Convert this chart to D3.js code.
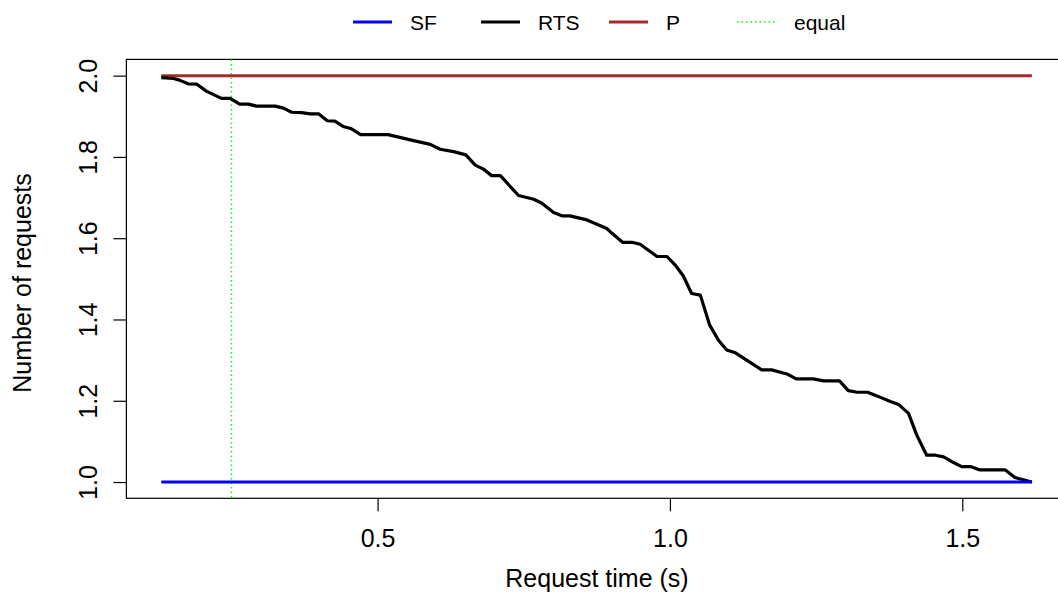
<!DOCTYPE html>
<html>
<head>
<meta charset="utf-8">
<script src="https://cdn.jsdelivr.net/npm/d3@7"></script>
<style>
  html, body { margin: 0; padding: 0; background: #fff; }
  svg { display: block; font-family: "Liberation Sans", Arial, Helvetica, sans-serif; }
</style>
</head>
<body>
<svg id="chart" width="1058" height="595"></svg>
<script>
// ---- data ----
const rtsX = [0.130, 0.151, 0.161, 0.176, 0.191, 0.207, 0.233, 0.248, 0.264, 0.279,
              0.293, 0.325, 0.339, 0.353, 0.370, 0.385, 0.399, 0.414, 0.427, 0.441,
              0.454, 0.471, 0.518, 0.556, 0.590, 0.607, 0.630, 0.651, 0.667, 0.681,
              0.695, 0.710, 0.741, 0.767, 0.781, 0.801, 0.815, 0.829, 0.858, 0.892,
              0.901, 0.919, 0.935, 0.949, 0.978, 0.995, 1.009, 1.023, 1.037, 1.052,
              1.068, 1.083, 1.097, 1.112, 1.157, 1.174, 1.200, 1.216, 1.245, 1.263,
              1.290, 1.305, 1.320, 1.338, 1.354, 1.377, 1.391, 1.408, 1.422, 1.439,
              1.454, 1.468, 1.485, 1.499, 1.514, 1.529, 1.573, 1.590, 1.619];
const rtsY = [1.995, 1.993, 1.989, 1.980, 1.979, 1.962, 1.944, 1.944, 1.930, 1.930,
              1.925, 1.925, 1.920, 1.910, 1.909, 1.906, 1.906, 1.889, 1.888, 1.875,
              1.870, 1.855, 1.855, 1.842, 1.831, 1.819, 1.813, 1.805, 1.780, 1.770,
              1.754, 1.754, 1.705, 1.696, 1.686, 1.663, 1.655, 1.655, 1.645, 1.624,
              1.612, 1.590, 1.590, 1.585, 1.555, 1.555, 1.534, 1.507, 1.464, 1.460,
              1.386, 1.349, 1.325, 1.318, 1.276, 1.276, 1.266, 1.254, 1.254, 1.249,
              1.249, 1.225, 1.221, 1.221, 1.212, 1.198, 1.191, 1.169, 1.116, 1.066,
              1.066, 1.062, 1.048, 1.038, 1.038, 1.030, 1.030, 1.011, 1.000];
const sfX = [0.130, 1.619];
const sfY = [1, 1];
const pX = [0.130, 1.619];
const pY = [2, 2];
const equalX = 0.25;

const xTicks = [0.5, 1.0, 1.5];
const yTicks = [1.0, 1.2, 1.4, 1.6, 1.8, 2.0];
const legendLabels = ["SF", "RTS", "P", "equal"];
const legendColors = ["#0000FF", "#000000", "#A52A2A", "#00FF00"];

// ---- layout ----
const svg = d3.select("#chart");
const pLeft = 126.4, pRight = 1067.3, pTop = 59.4, pBottom = 498.3;
const xDomain = [0.0704, 1.6796];
const yDomain = [0.96, 2.04];
const x = d3.scaleLinear().domain(xDomain).range([pLeft, pRight]);
const y = d3.scaleLinear().domain(yDomain).range([pBottom, pTop]);
const fsAxis = 25;
const fsLeg = 21;

// plot box
svg.append("rect")
  .attr("x", pLeft).attr("y", pTop)
  .attr("width", pRight - pLeft).attr("height", pBottom - pTop)
  .attr("fill", "none").attr("stroke", "#000").attr("stroke-width", 1.2);

// axes
const xAxis = svg.append("g").attr("transform", `translate(0,${pBottom})`)
  .call(d3.axisBottom(x).tickValues(xTicks).tickFormat(d3.format(".1f")).tickSize(13).tickPadding(18));
xAxis.select(".domain").remove();
xAxis.selectAll("text").attr("font-size", fsAxis).attr("fill", "#000").attr("font-family", null);
xAxis.selectAll("line").attr("stroke", "#000").attr("stroke-width", 1.2);

const yAxis = svg.append("g").attr("transform", `translate(${pLeft},0)`)
  .call(d3.axisLeft(y).tickValues(yTicks).tickFormat(d3.format(".1f")).tickSize(13).tickPadding(0));
yAxis.select(".domain").remove();
yAxis.selectAll("line").attr("stroke", "#000").attr("stroke-width", 1.2);
yAxis.selectAll("text")
  .attr("font-size", fsAxis).attr("fill", "#000").attr("font-family", null)
  .attr("x", null).attr("dy", null)
  .attr("text-anchor", "middle")
  .attr("transform", "translate(-38,0) rotate(-90)")
  .attr("dominant-baseline", "central");

// axis titles
svg.append("text").attr("x", 597).attr("y", 587)
  .attr("text-anchor", "middle").attr("font-size", fsAxis).text("Request time (s)");
svg.append("text")
  .attr("transform", `translate(31,283) rotate(-90)`)
  .attr("text-anchor", "middle").attr("font-size", fsAxis).text("Number of requests");

// lines
const line = d3.line().x(d => x(d[0])).y(d => y(d[1]));
const plot = svg.append("g");
plot.append("line")
  .attr("x1", x(equalX)).attr("x2", x(equalX)).attr("y1", pTop).attr("y2", pBottom)
  .attr("stroke", legendColors[3]).attr("stroke-width", 1.5).attr("stroke-dasharray", "1.5,3");
plot.append("path").datum(d3.zip(pX, pY)).attr("d", line)
  .attr("fill", "none").attr("stroke", legendColors[2]).attr("stroke-width", 3);
plot.append("path").datum(d3.zip(rtsX, rtsY)).attr("d", line)
  .attr("fill", "none").attr("stroke", legendColors[1]).attr("stroke-width", 3.2)
  .attr("stroke-linejoin", "round");
plot.append("path").datum(d3.zip(sfX, sfY)).attr("d", line)
  .attr("fill", "none").attr("stroke", legendColors[0]).attr("stroke-width", 3);

// legend
const legendX = [353, 481, 609, 737];
const legY = 22;
const leg = svg.append("g");
legendLabels.forEach((lab, i) => {
  const g = leg.append("g").attr("transform", `translate(${legendX[i]},${legY})`);
  g.append("line").attr("x1", 0).attr("x2", 39).attr("y1", 0).attr("y2", 0)
    .attr("stroke", legendColors[i])
    .attr("stroke-width", i === 3 ? 1.5 : 3)
    .attr("stroke-dasharray", i === 3 ? "1.5,3" : null);
  g.append("text").attr("x", 57).attr("y", 0).attr("dominant-baseline", "central")
    .attr("font-size", fsLeg).attr("fill", "#000").text(lab);
});
</script>
</body>
</html>
